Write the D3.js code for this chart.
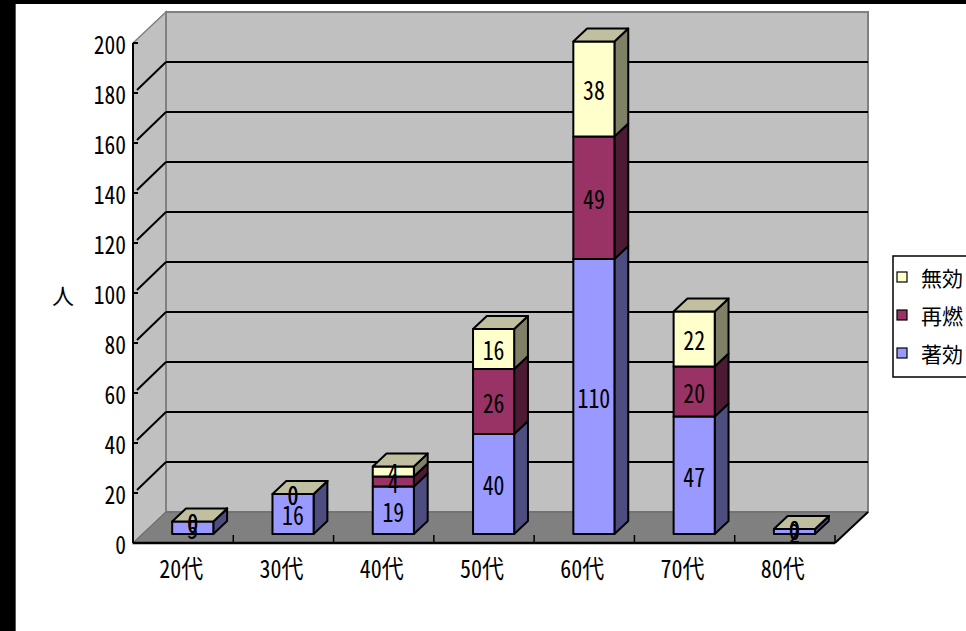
<!DOCTYPE html>
<html>
<head>
<meta charset="utf-8">
<script src="https://cdn.jsdelivr.net/npm/d3@7"></script>
<style>
  html, body { margin: 0; padding: 0; background: #fff; }
  svg text { font-family: "Noto Sans CJK JP", "Noto Sans", sans-serif; font-feature-settings: "hwid" 1; }
</style>
</head>
<body>
<svg id="chart" width="966" height="631"></svg>
<script>
// Age groups and counts per outcome
const categories = ["20代", "30代", "40代", "50代", "60代", "70代", "80代"];
const seriesNames = ["著効", "再燃", "無効"];
const chakkou = [5, 16, 19, 40, 110, 47, 2];
const sainen  = [0, 0, 4, 26, 49, 20, 0];
const mukou   = [0, 0, 4, 16, 38, 22, 0];
const yTicks = [0, 20, 40, 60, 80, 100, 120, 140, 160, 180, 200];

const seriesValues = [chakkou, sainen, mukou];
const colors = {
  "著効": { front: "#9999ff", side: "#4d4d80", top: "#7373bf" },
  "再燃": { front: "#993366", side: "#4d1a33", top: "#73264d" },
  "無効": { front: "#ffffcc", side: "#808066", top: "#c0c0a0" }
};

const svg = d3.select("#chart");

// narrow, tall text in the style of a gothic monospace face
function narrowText(g, x, y, txt, size, anchor, sx) {
  return g.append("text")
    .attr("transform", `translate(${x},${y}) scale(${sx},1)`)
    .attr("text-anchor", anchor).attr("dominant-baseline", "central")
    .attr("font-size", size).attr("fill", "#000")
    .text(txt);
}

// frame strips
svg.append("rect").attr("x", 0).attr("y", 0).attr("width", 966).attr("height", 631).attr("fill", "#fff");
svg.append("rect").attr("x", 0).attr("y", 0).attr("width", 15).attr("height", 631).attr("fill", "#000");
svg.append("line").attr("x1", 15.5).attr("x2", 15.5).attr("y1", 0).attr("y2", 631).attr("stroke", "#555").attr("stroke-width", 1);
svg.append("rect").attr("x", 0).attr("y", 0).attr("width", 966).attr("height", 4).attr("fill", "#000");

// plot geometry
const x0 = 133, x1 = 835;
const y = d3.scaleLinear().domain([0, 200]).range([543, 43]);
const depth = { dx: 33, dy: -31 };           // floor depth
const barFront = { dx: 9.6, dy: -9 };        // bar front plane offset
const barSide = { dx: 13.8, dy: -13 };       // bar thickness in depth

const xAxisBand = d3.scaleBand().domain(categories).range([x0, x1]).padding(0);
const xBar = d3.scaleBand().domain(categories).range([x0, x1]).paddingInner(0.59).paddingOuter(0.295);

const poly = pts => pts.map(p => p.join(",")).join(" ");

// walls
const yTop = y(200), yBase = y(0);
svg.append("polygon")
  .attr("points", poly([[x0, yTop], [x0 + depth.dx, yTop + depth.dy], [x0 + depth.dx, yBase + depth.dy], [x0, yBase]]))
  .attr("fill", "#c0c0c0").attr("stroke", "#808080").attr("stroke-width", 1.5);
svg.append("polygon")
  .attr("points", poly([[x0 + depth.dx, yTop + depth.dy], [x1 + depth.dx, yTop + depth.dy], [x1 + depth.dx, yBase + depth.dy], [x0 + depth.dx, yBase + depth.dy]]))
  .attr("fill", "#c0c0c0").attr("stroke", "#808080").attr("stroke-width", 2);
svg.append("polygon")
  .attr("points", poly([[x0, yBase], [x0 + depth.dx, yBase + depth.dy], [x1 + depth.dx, yBase + depth.dy], [x1, yBase]]))
  .attr("fill", "#808080").attr("stroke", "#666").attr("stroke-width", 1);

// gridlines on back and side walls
const grid = svg.append("g").attr("stroke", "#000").attr("stroke-width", 2).attr("fill", "none");
yTicks.filter(t => t > 0 && t < 200).forEach(t => {
  grid.append("line")
    .attr("x1", x0 + depth.dx).attr("x2", x1 + depth.dx)
    .attr("y1", y(t) + depth.dy).attr("y2", y(t) + depth.dy);
  grid.append("line")
    .attr("x1", x0 + 4).attr("y1", y(t) - 3)
    .attr("x2", x0 + depth.dx).attr("y2", y(t) + depth.dy);
});

// y axis
const axisG = svg.append("g");
axisG.append("line").attr("x1", x0).attr("x2", x0).attr("y1", yTop).attr("y2", yBase)
  .attr("stroke", "#000").attr("stroke-width", 2);
yTicks.forEach(t => {
  axisG.append("line").attr("x1", x0).attr("x2", x0 + 5).attr("y1", y(t)).attr("y2", y(t))
    .attr("stroke", "#000").attr("stroke-width", 2);
  narrowText(axisG, 126, y(t), t, 25, "end", 0.86);
});

// x axis
axisG.append("line").attr("x1", x0).attr("x2", x1).attr("y1", yBase).attr("y2", yBase)
  .attr("stroke", "#000").attr("stroke-width", 2.5);
axisG.append("line").attr("x1", x1).attr("x2", x1 + depth.dx).attr("y1", yBase).attr("y2", yBase + depth.dy)
  .attr("stroke", "#000").attr("stroke-width", 2);
categories.forEach(c => {
  const bx = xAxisBand(c) + xAxisBand.bandwidth();
  axisG.append("line").attr("x1", bx).attr("x2", bx).attr("y1", yBase).attr("y2", yBase - 8)
    .attr("stroke", "#000").attr("stroke-width", 1.5);
  narrowText(axisG, xAxisBand(c) + xAxisBand.bandwidth() / 2 - 2, 567, c, 25, "middle", 0.88);
});

// y axis title
svg.append("text").attr("x", 63).attr("y", 294)
  .attr("text-anchor", "middle").attr("dominant-baseline", "central")
  .attr("font-size", 22).text("人");

// stacked 3D bars
const yb = v => y(v) + barFront.dy;
const barsG = svg.append("g").attr("stroke", "#000").attr("stroke-width", 2).attr("stroke-linejoin", "round");
const labels = [];
categories.forEach((c, i) => {
  const left = xBar(c) + barFront.dx;
  const right = left + xBar.bandwidth();
  let cum = 0;
  seriesNames.forEach((s, si) => {
    const v = seriesValues[si][i];
    const lo = cum, hi = cum + v;
    const col = colors[s];
    // side face
    barsG.append("polygon")
      .attr("points", poly([[right, yb(lo)], [right + barSide.dx, yb(lo) + barSide.dy], [right + barSide.dx, yb(hi) + barSide.dy], [right, yb(hi)]]))
      .attr("fill", col.side);
    // front face
    barsG.append("rect")
      .attr("x", left).attr("y", yb(hi))
      .attr("width", right - left).attr("height", yb(lo) - yb(hi))
      .attr("fill", col.front);
    labels.push({ x: (left + right) / 2, y: (yb(lo) + yb(hi)) / 2, v });
    cum = hi;
  });
  // top face takes the colour of the top series
  const topCol = colors[seriesNames[seriesNames.length - 1]];
  barsG.append("polygon")
    .attr("points", poly([[left, yb(cum)], [left + barSide.dx, yb(cum) + barSide.dy], [right + barSide.dx, yb(cum) + barSide.dy], [right, yb(cum)]]))
    .attr("fill", topCol.top);
});

// data labels
const labelG = svg.append("g");
labels.forEach(d => narrowText(labelG, d.x, d.y, d.v, 26, "middle", 0.84));

// legend
const legend = svg.append("g");
legend.append("rect").attr("x", 893).attr("y", 256).attr("width", 90).attr("height", 121)
  .attr("fill", "#fff").attr("stroke", "#000").attr("stroke-width", 1.5);
const legendItems = ["無効", "再燃", "著効"];
legendItems.forEach((s, i) => {
  const cy = 277 + i * 38;
  legend.append("rect").attr("x", 897).attr("y", cy - 5).attr("width", 10).attr("height", 10)
    .attr("fill", colors[s].front).attr("stroke", "#000").attr("stroke-width", 1.2);
  legend.append("text").attr("x", 921).attr("y", cy)
    .attr("dominant-baseline", "central").attr("font-size", 21).text(s);
});
</script>
</body>
</html>
